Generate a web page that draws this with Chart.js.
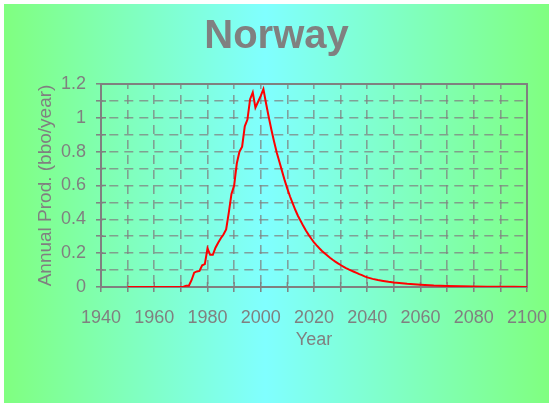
<!DOCTYPE html>
<html>
<head>
<meta charset="utf-8">
<script src="https://cdn.jsdelivr.net/npm/chart.js@4"></script>
<style>
  html, body { margin: 0; padding: 0; background: #fff; }
  #box {
    position: absolute; left: 4px; top: 4px; width: 545px; height: 399px;
    background: linear-gradient(to right, #80ff80 0%, #80ffff 48%, #80ff80 100%);
  }
</style>
</head>
<body>
<div id="box"><canvas id="chart" width="545" height="399"></canvas></div>
<script>
// Norvegia: produzione annua (bbo/anno)
const years = [
  1950, 1955, 1960, 1965, 1970, 1971, 1972, 1973, 1974, 1975, 1976, 1977, 1978, 1979,
  1980, 1981, 1982, 1983, 1984, 1985, 1986, 1987, 1988, 1989,
  1990, 1991, 1992, 1993, 1994, 1995, 1996, 1997, 1998, 1999,
  2000, 2001, 2002, 2003, 2004, 2005, 2006, 2007, 2008, 2009,
  2010, 2011, 2012, 2013, 2014, 2015, 2016, 2017, 2018, 2019,
  2020, 2021, 2022, 2023, 2024, 2025, 2026, 2027, 2028, 2029,
  2030, 2031, 2032, 2033, 2034, 2035, 2036, 2037, 2038, 2039,
  2040, 2042, 2044, 2046, 2048, 2050, 2055, 2060, 2065, 2070,
  2075, 2080, 2085, 2090, 2095, 2100
];
const production = [
  0, 0, 0, 0, 0, 0.002, 0.008, 0.008, 0.04, 0.085, 0.092, 0.095, 0.128, 0.135,
  0.228, 0.19, 0.19, 0.232, 0.262, 0.288, 0.31, 0.34, 0.44, 0.55,
  0.6, 0.73, 0.8, 0.83, 0.95, 0.99, 1.11, 1.15, 1.06, 1.095,
  1.13, 1.17, 1.085, 1.005, 0.93, 0.86, 0.795, 0.74, 0.685, 0.63,
  0.58, 0.535, 0.495, 0.455, 0.42, 0.39, 0.36, 0.333, 0.308, 0.285,
  0.264, 0.246, 0.229, 0.213, 0.199, 0.186, 0.173, 0.161, 0.15, 0.14,
  0.13, 0.121, 0.112, 0.104, 0.097, 0.09, 0.083, 0.076, 0.07, 0.063,
  0.057, 0.048, 0.041, 0.036, 0.031, 0.027, 0.019, 0.014, 0.009, 0.006,
  0.004, 0.003, 0.002, 0.001, 0.0008, 0.0005
];
// etichette mostrate (le altre tacche restano senza testo)
const xTickLabels = [1940, 1960, 1980, 2000, 2020, 2040, 2060, 2080, 2100];
const yTickLabels = [0, 0.2, 0.4, 0.6, 0.8, 1, 1.2];

const GRAY = "#808080";
const GRID = "rgba(128,128,128,0.75)";
const FONT = "Liberation Sans, Arial, sans-serif";

// cornice completa e tacche verso l'interno, sotto la linea rossa
const cornice = {
  id: "cornice",
  beforeDatasetsDraw(chart) {
    const a = chart.chartArea, ctx = chart.ctx;
    const sx = chart.scales.x, sy = chart.scales.y;
    ctx.save();
    ctx.strokeStyle = GRAY;
    ctx.lineWidth = 1.5;
    ctx.beginPath();
    sy.ticks.forEach((t) => {
      const y = sy.getPixelForValue(t.value);
      ctx.moveTo(a.left, y);
      ctx.lineTo(a.left + 5, y);
    });
    sx.ticks.forEach((t) => {
      const x = sx.getPixelForValue(t.value);
      ctx.moveTo(x, a.bottom);
      ctx.lineTo(x, a.bottom - 5);
    });
    ctx.stroke();
    ctx.lineWidth = 2;
    ctx.strokeRect(a.left, a.top, a.right - a.left, a.bottom - a.top);
    ctx.restore();
  },
};

new Chart(document.getElementById("chart").getContext("2d"), {
  type: "line",
  data: {
    datasets: [
      {
        data: years.map((y, i) => ({ x: y, y: production[i] })),
        borderColor: "#ff0000",
        borderWidth: 2,
        pointRadius: 0,
        tension: 0,
        fill: false,
      },
    ],
  },
  options: {
    responsive: false,
    animation: false,
    layout: { padding: 0 },
    plugins: {
      legend: { display: false },
      tooltip: { enabled: false },
      title: {
        display: true,
        text: "Norway",
        color: GRAY,
        font: { family: FONT, size: 40, weight: "bold", lineHeight: 1.2 },
        padding: { top: 9, bottom: 23 },
      },
    },
    scales: {
      x: {
        type: "linear",
        min: 1940,
        max: 2100,
        afterFit: (s) => {
          s.height = 116;
          // i margini laterali li decidono gli assi y
          s.paddingLeft = 0;
          s.paddingRight = 0;
        },
        grid: { color: GRID, lineWidth: 1.6, tickLength: 5, tickColor: GRAY, tickWidth: 1.5 },
        border: { display: true, color: GRAY, width: 2, dash: [9, 6], dashOffset: 4 },
        ticks: {
          stepSize: 10,
          autoSkip: false,
          maxRotation: 0,
          padding: 15,
          color: GRAY,
          font: { family: FONT, size: 18 },
          callback: (v) => (xTickLabels.includes(v) ? String(v) : ""),
        },
        title: {
          display: true,
          text: "Year",
          color: GRAY,
          font: { family: FONT, size: 18 },
          padding: { top: 0, bottom: 52 },
        },
      },
      y: {
        min: 0,
        max: 1.2,
        afterFit: (s) => { s.width = 97; },
        grid: { color: GRID, lineWidth: 1.6, tickLength: 5, tickColor: GRAY, tickWidth: 1.5 },
        border: { display: true, color: GRAY, width: 2, dash: [9, 6], dashOffset: 7.7 },
        ticks: {
          stepSize: 0.1,
          autoSkip: false,
          padding: 10,
          color: GRAY,
          font: { family: FONT, size: 18 },
          callback: (v) => {
            const r = Math.round(v * 10) / 10;
            return yTickLabels.includes(r) ? String(r) : "";
          },
        },
        title: {
          display: true,
          text: "Annual Prod. (bbo/year)",
          color: GRAY,
          font: { family: FONT, size: 19 },
          padding: { top: 30, bottom: 0 },
        },
      },
      // asse vuoto a destra: solo per fissare il margine destro
      margine: {
        position: "right",
        afterFit: (s) => { s.width = 22; },
        grid: { drawOnChartArea: false, drawTicks: false },
        border: { display: false },
        ticks: { display: false },
      },
    },
  },
  plugins: [cornice],
});
</script>
</body>
</html>
